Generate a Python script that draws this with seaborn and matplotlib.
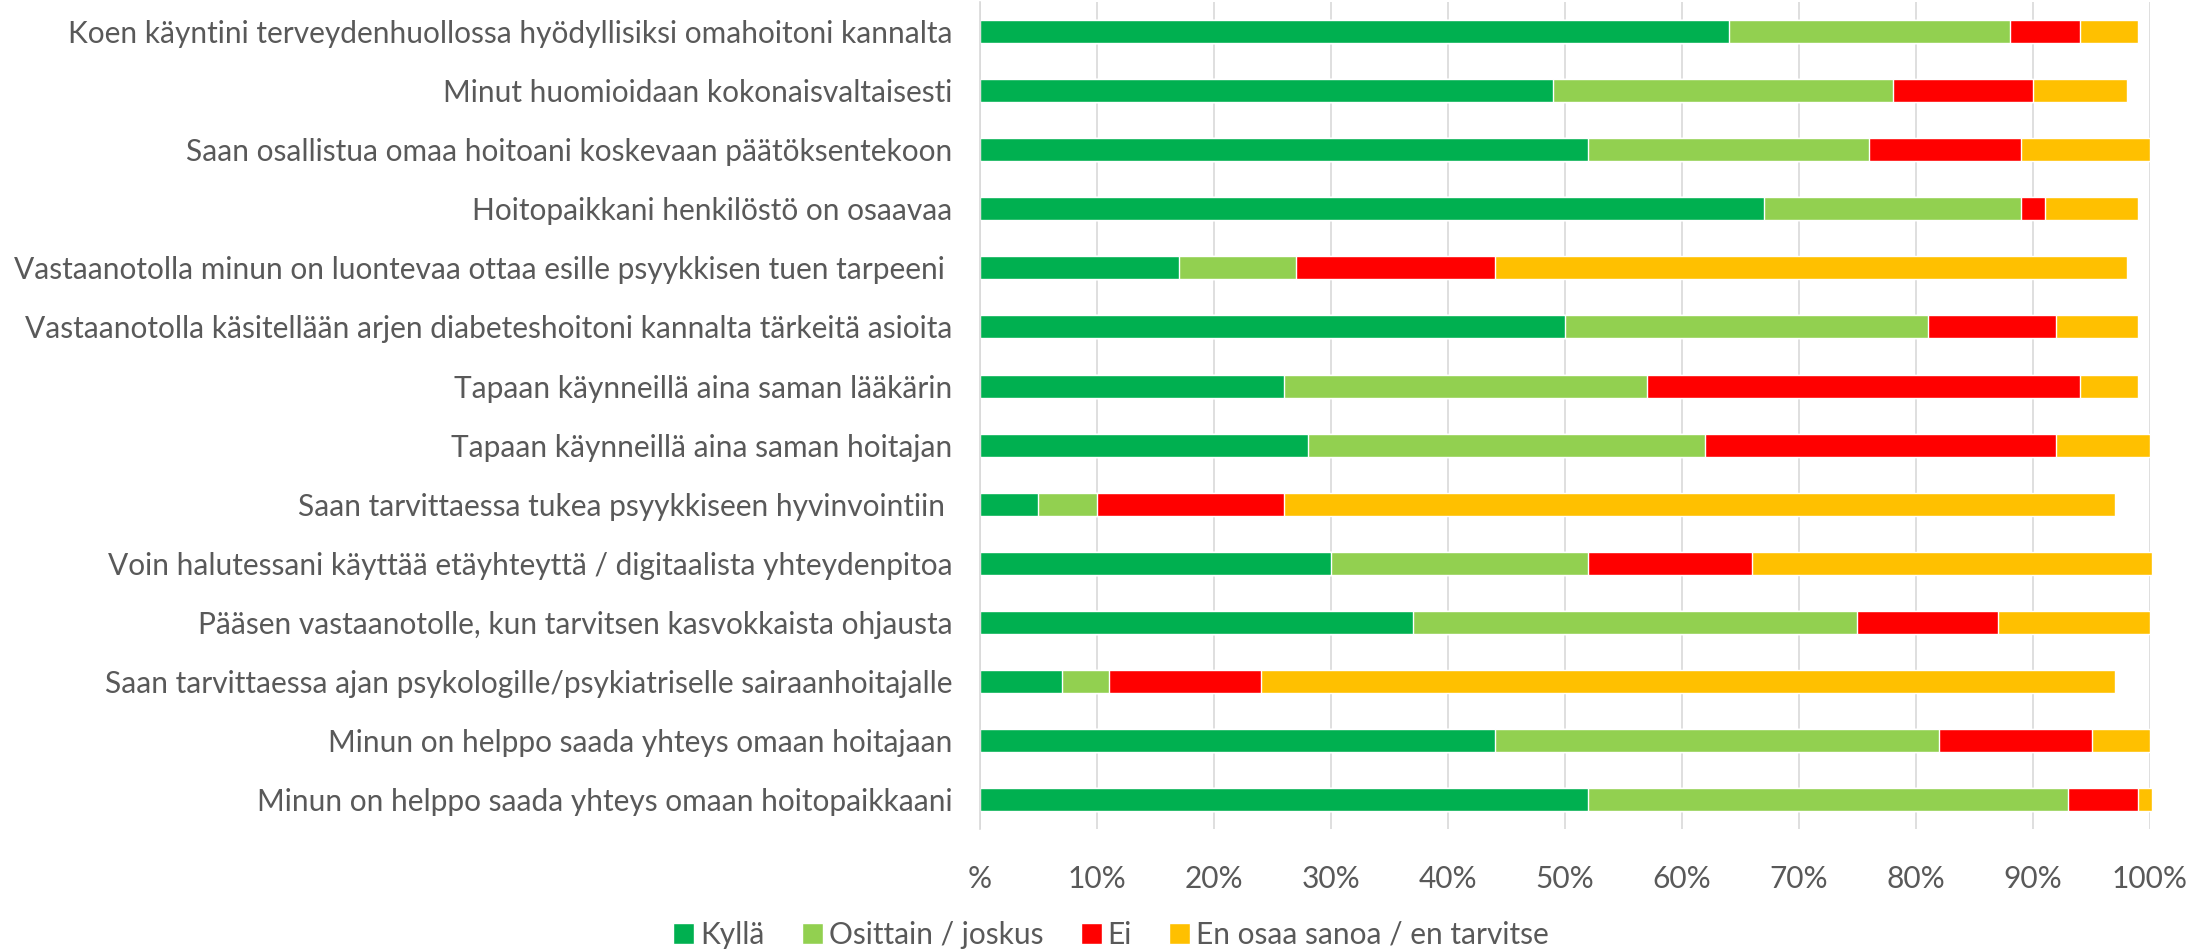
import matplotlib
matplotlib.use("Agg")
import matplotlib.pyplot as plt
import numpy as np
import pandas as pd
import seaborn as sns
from matplotlib.ticker import FuncFormatter

# Survey statements (top to bottom)
statements = [
    "Koen käyntini terveydenhuollossa hyödyllisiksi omahoitoni kannalta",
    "Minut huomioidaan kokonaisvaltaisesti",
    "Saan osallistua omaa hoitoani koskevaan päätöksentekoon",
    "Hoitopaikkani henkilöstö on osaavaa",
    "Vastaanotolla minun on luontevaa ottaa esille psyykkisen tuen tarpeeni ",
    "Vastaanotolla käsitellään arjen diabeteshoitoni kannalta tärkeitä asioita",
    "Tapaan käynneillä aina saman lääkärin",
    "Tapaan käynneillä aina saman hoitajan",
    "Saan tarvittaessa tukea psyykkiseen hyvinvointiin ",
    "Voin halutessani käyttää etäyhteyttä / digitaalista yhteydenpitoa",
    "Pääsen vastaanotolle, kun tarvitsen kasvokkaista ohjausta",
    "Saan tarvittaessa ajan psykologille/psykiatriselle sairaanhoitajalle",
    "Minun on helppo saada yhteys omaan hoitajaan",
    "Minun on helppo saada yhteys omaan hoitopaikkaani",
]

# Shares of answers, %
kylla = [64, 49, 52, 67, 17, 50, 26, 28, 5, 30, 37, 7, 44, 52]
osittain = [24, 29, 24, 22, 10, 31, 31, 34, 5, 22, 38, 4, 38, 41]
ei = [6, 12, 13, 2, 17, 11, 37, 30, 16, 14, 12, 13, 13, 6]
en_osaa = [5, 8, 11, 8, 54, 7, 5, 8, 71, 34.2, 13, 73, 5, 1.2]

series_names = ["Kyllä", "Osittain / joskus", "Ei", "En osaa sanoa / en tarvitse"]
series_colors = ["#00B050", "#92D050", "#FF0000", "#FFC000"]

df = pd.DataFrame({
    "statement": statements,
    series_names[0]: kylla,
    series_names[1]: osittain,
    series_names[2]: ei,
    series_names[3]: en_osaa,
})
cum = df[series_names].cumsum(axis=1)

sns.set_theme(style="white")
plt.rcParams["font.family"] = ["Lato", "DejaVu Sans"]
TEXT = "#595959"
FS = 21.5

fig = plt.figure(figsize=(22.09, 9.5), dpi=100)
ax = fig.add_axes([0.4436, 0.127, 0.5297, 0.871])

# stacked bars: draw cumulative totals, longest first
for name, color in reversed(list(zip(series_names, series_colors))):
    sns.barplot(x=cum[name], y=df["statement"], color=color, orient="h",
                width=0.39, saturation=1, label=name, ax=ax, zorder=2)
for p in ax.patches:
    p.set_clip_on(False)

ax.set_xlim(0, 100)
ax.set_ylim(13.5, -0.5)
ax.set_xticks(np.arange(0, 101, 10))
ax.xaxis.set_major_formatter(FuncFormatter(lambda v, p: "%" if v == 0 else f"{v:.0f}%"))
ax.grid(axis="x", color="#D9D9D9", linewidth=1.2, zorder=0)
ax.set_axisbelow(True)
ax.set_xlabel("")
ax.set_ylabel("")
for side in ["top", "right", "bottom"]:
    ax.spines[side].set_visible(False)
ax.spines["left"].set_color("#D9D9D9")
ax.spines["left"].set_linewidth(1.2)
ax.tick_params(axis="y", length=0, pad=20, labelsize=FS, labelcolor=TEXT)
ax.tick_params(axis="x", length=0, pad=26, labelsize=FS, labelcolor=TEXT)

handles, labels = ax.get_legend_handles_labels()
order = [labels.index(n) for n in series_names]
leg = ax.get_legend()
if leg is not None:
    leg.remove()
fig.legend([handles[i] for i in order], series_names, loc="center",
           bbox_to_anchor=(0.503, 0.016), ncol=4, frameon=False,
           fontsize=FS, labelcolor=TEXT, handlelength=0.7, handleheight=0.7,
           handletextpad=0.2, columnspacing=1.25)

fig.savefig("out.png", dpi=100)
